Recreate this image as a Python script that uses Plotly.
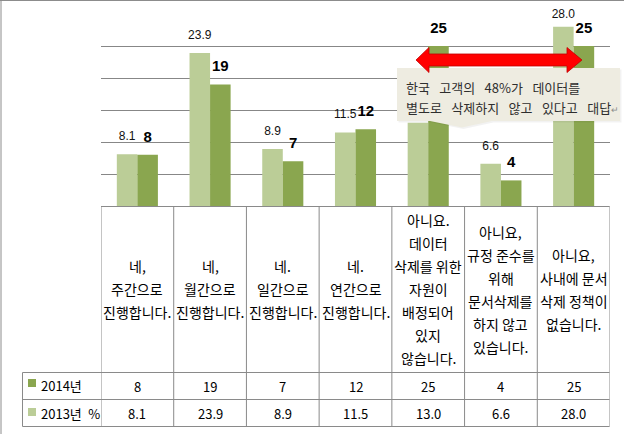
import plotly.graph_objects as go

# ---------------- data ----------------
categories = [
    ["네,", "주간으로", "진행합니다."],
    ["네,", "월간으로", "진행합니다."],
    ["네.", "일간으로", "진행합니다."],
    ["네.", "연간으로", "진행합니다."],
    ["아니요.", "데이터", "삭제를 위한", "자원이", "배정되어", "있지", "않습니다."],
    ["아니요,", "규정 준수를", "위해", "문서삭제를", "하지 않고", "있습니다."],
    ["아니요,", "사내에 문서", "삭제 정책이", "없습니다."],
]
values_2014 = [8, 19, 7, 12, 25, 4, 25]
values_2013 = [8.1, 23.9, 8.9, 11.5, 13.0, 6.6, 28.0]
series_2014 = "2014년"
series_2013 = "2013년\u2002%"
callout_lines = ["한국 고객의 48%가 데이터를", "별도로 삭제하지 않고 있다고 대답"]
hidden_2013_labels = [4]  # this label sits under the callout box in the original
y_max = 30
y_step = 5

# ---------------- layout helpers ----------------
FW, FH = 624, 434
L, R, T, B = 101, 610, 14, 206
PW, PH = R - L, B - T
C_DARK = "#8AA64F"
C_LIGHT = "#BBCD97"
C_GRID = "#878787"
C_TABLE = "#8A8A8A"
KFONT = "Noto Sans CJK KR"
bargap = 0.435
bw = (1 - bargap) / 2
label_off = 17 * y_max / PH  # ~17 px above bar top, in data units
label_cap = y_max - 0.15     # labels are kept inside the plot area


def px(x):
    return (x - L) / PW


def py(y):
    return (B - y) / PH


def sp(s):
    return s.replace(" ", "\u00a0\u2002")


n = len(categories)
xs = list(range(n))

fig = go.Figure()
fig.add_trace(go.Bar(x=xs, y=values_2013, name=series_2013, marker=dict(color=C_LIGHT, line=dict(width=0)),
                     hoverinfo="skip"))
fig.add_trace(go.Bar(x=xs, y=values_2014, name=series_2014, marker=dict(color=C_DARK, line=dict(width=0)),
                     hoverinfo="skip"))

# data labels
fig.add_trace(go.Scatter(
    x=[i - bw / 2 for i in xs], y=[min(v + label_off, label_cap) for v in values_2013], mode="text",
    text=["" if i in hidden_2013_labels else f"{v:.1f}" for i, v in enumerate(values_2013)],
    textposition="middle center",
    textfont=dict(family="Liberation Sans", size=12, color="#111"),
    cliponaxis=False, showlegend=False, hoverinfo="skip"))
fig.add_trace(go.Scatter(
    x=[i + bw / 2 for i in xs], y=[min(v + label_off, label_cap) for v in values_2014], mode="text",
    text=[f"<b>{v}</b>" for v in values_2014], textposition="middle center",
    textfont=dict(family="Liberation Sans", size=15, color="#000"),
    cliponaxis=False, showlegend=False, hoverinfo="skip"))

shapes = []
annotations = []

# outer frame (top and left edges)
shapes.append(dict(type="line", xref="paper", yref="paper", x0=px(0), x1=px(FW), y0=py(0.5), y1=py(0.5),
                   line=dict(color="#8C8C8C", width=1)))
shapes.append(dict(type="line", xref="paper", yref="paper", x0=px(1), x1=px(1), y0=py(0), y1=py(FH),
                   line=dict(color="#8C8C8C", width=1)))

# table: horizontal lines
for yy, x0 in [(206.5, L), (372.5, 22.5), (399.5, 22.5), (426.5, 22.5)]:
    shapes.append(dict(type="line", xref="paper", yref="paper", x0=px(x0), x1=px(609.5), y0=py(yy), y1=py(yy),
                       line=dict(color=C_TABLE, width=1)))
shapes.append(dict(type="line", xref="paper", yref="paper", x0=px(22.5), x1=px(22.5), y0=py(372.5), y1=py(426.5),
                   line=dict(color=C_TABLE, width=1)))
for k in range(n + 1):
    shapes.append(dict(type="line", xref="x", yref="paper", x0=k - 0.5, x1=k - 0.5, y0=py(426.5), y1=py(206),
                       line=dict(color=C_TABLE, width=1)))

# category text in the table
HDR_MID, LINE_H = 289, 23
for i, lines in enumerate(categories):
    m = len(lines)
    for j, s in enumerate(lines):
        yc = HDR_MID + (j - (m - 1) / 2) * LINE_H
        annotations.append(dict(x=i, xref="x", y=py(yc), yref="paper", text=s, showarrow=False,
                                xanchor="center", yanchor="middle",
                                font=dict(family=KFONT, size=14, color="#000")))

# value rows
for i in xs:
    annotations.append(dict(x=i, xref="x", y=py(386), yref="paper", text=str(values_2014[i]), showarrow=False,
                            xanchor="center", yanchor="middle", font=dict(family=KFONT, size=13, color="#000")))
    annotations.append(dict(x=i, xref="x", y=py(413), yref="paper", text=f"{values_2013[i]:.1f}", showarrow=False,
                            xanchor="center", yanchor="middle", font=dict(family=KFONT, size=13, color="#000")))

# legend keys in the table
for (y0, y1, col, name, yc) in [(379, 387, C_DARK, series_2014, 385.5), (408, 416, C_LIGHT, series_2013, 413)]:
    shapes.append(dict(type="rect", xref="paper", yref="paper", x0=px(28), x1=px(36), y0=py(y1), y1=py(y0),
                       fillcolor=col, line=dict(width=0)))
    annotations.append(dict(x=px(39), xref="paper", y=py(yc), yref="paper", text=name, showarrow=False,
                            xanchor="left", yanchor="middle", font=dict(family=KFONT, size=13, color="#000")))


def poly(pts):
    return "M " + " L ".join(f"{px(a):.5f},{py(b):.5f}" for a, b in pts) + " Z"


# callout box with pointer
box = [(397, 68), (620, 68), (620, 121), (492, 121), (462, 127.5), (430, 121), (397, 121)]
shadow = [(a + 1.5, b + 1.5) for a, b in box]
shapes.append(dict(type="path", xref="paper", yref="paper", path=poly(shadow), layer="above",
                   fillcolor="rgba(0,0,0,0.05)", line=dict(width=0)))
shapes.append(dict(type="path", xref="paper", yref="paper", path=poly(box), layer="above",
                   fillcolor="#EEECE1", line=dict(width=0)))

# red double arrow
arrow = [(416, 60), (429, 47.5), (429, 54), (567, 54), (567, 47.5), (582, 60),
         (567, 72.5), (567, 66), (429, 66), (429, 72.5)]
shapes.append(dict(type="path", xref="paper", yref="paper", path=poly(arrow), layer="above",
                   fillcolor="#FF0000", line=dict(color="#C00000", width=0.8)))

# callout text
annotations.append(dict(x=px(404), xref="paper", y=py(87), yref="paper", text=sp(callout_lines[0]),
                        showarrow=False, xanchor="left", yanchor="middle",
                        font=dict(family=KFONT, size=13, color="#2E2E2E")))
annotations.append(dict(x=px(404), xref="paper", y=py(107), yref="paper",
                        text=sp(callout_lines[1]) + '<span style="color:#8C8C8C;font-size:9px">↵</span>',
                        showarrow=False, xanchor="left", yanchor="middle",
                        font=dict(family=KFONT, size=13, color="#2E2E2E")))

fig.update_layout(
    width=FW, height=FH,
    margin=dict(l=L, r=FW - R, t=T, b=FH - B, pad=0),
    paper_bgcolor="white", plot_bgcolor="white",
    barmode="group", bargap=bargap, bargroupgap=0,
    showlegend=False,
    xaxis=dict(range=[-0.5, n - 0.5], showgrid=False, zeroline=False, showticklabels=False, ticks="",
               showline=False, fixedrange=True),
    yaxis=dict(range=[0, y_max], dtick=y_step, tick0=0, showgrid=True, gridcolor=C_GRID, gridwidth=1,
               zeroline=False, showticklabels=False, ticks="", showline=False, fixedrange=True),
    shapes=shapes, annotations=annotations,
)

fig.write_html("out.html", config={"displayModeBar": False})
